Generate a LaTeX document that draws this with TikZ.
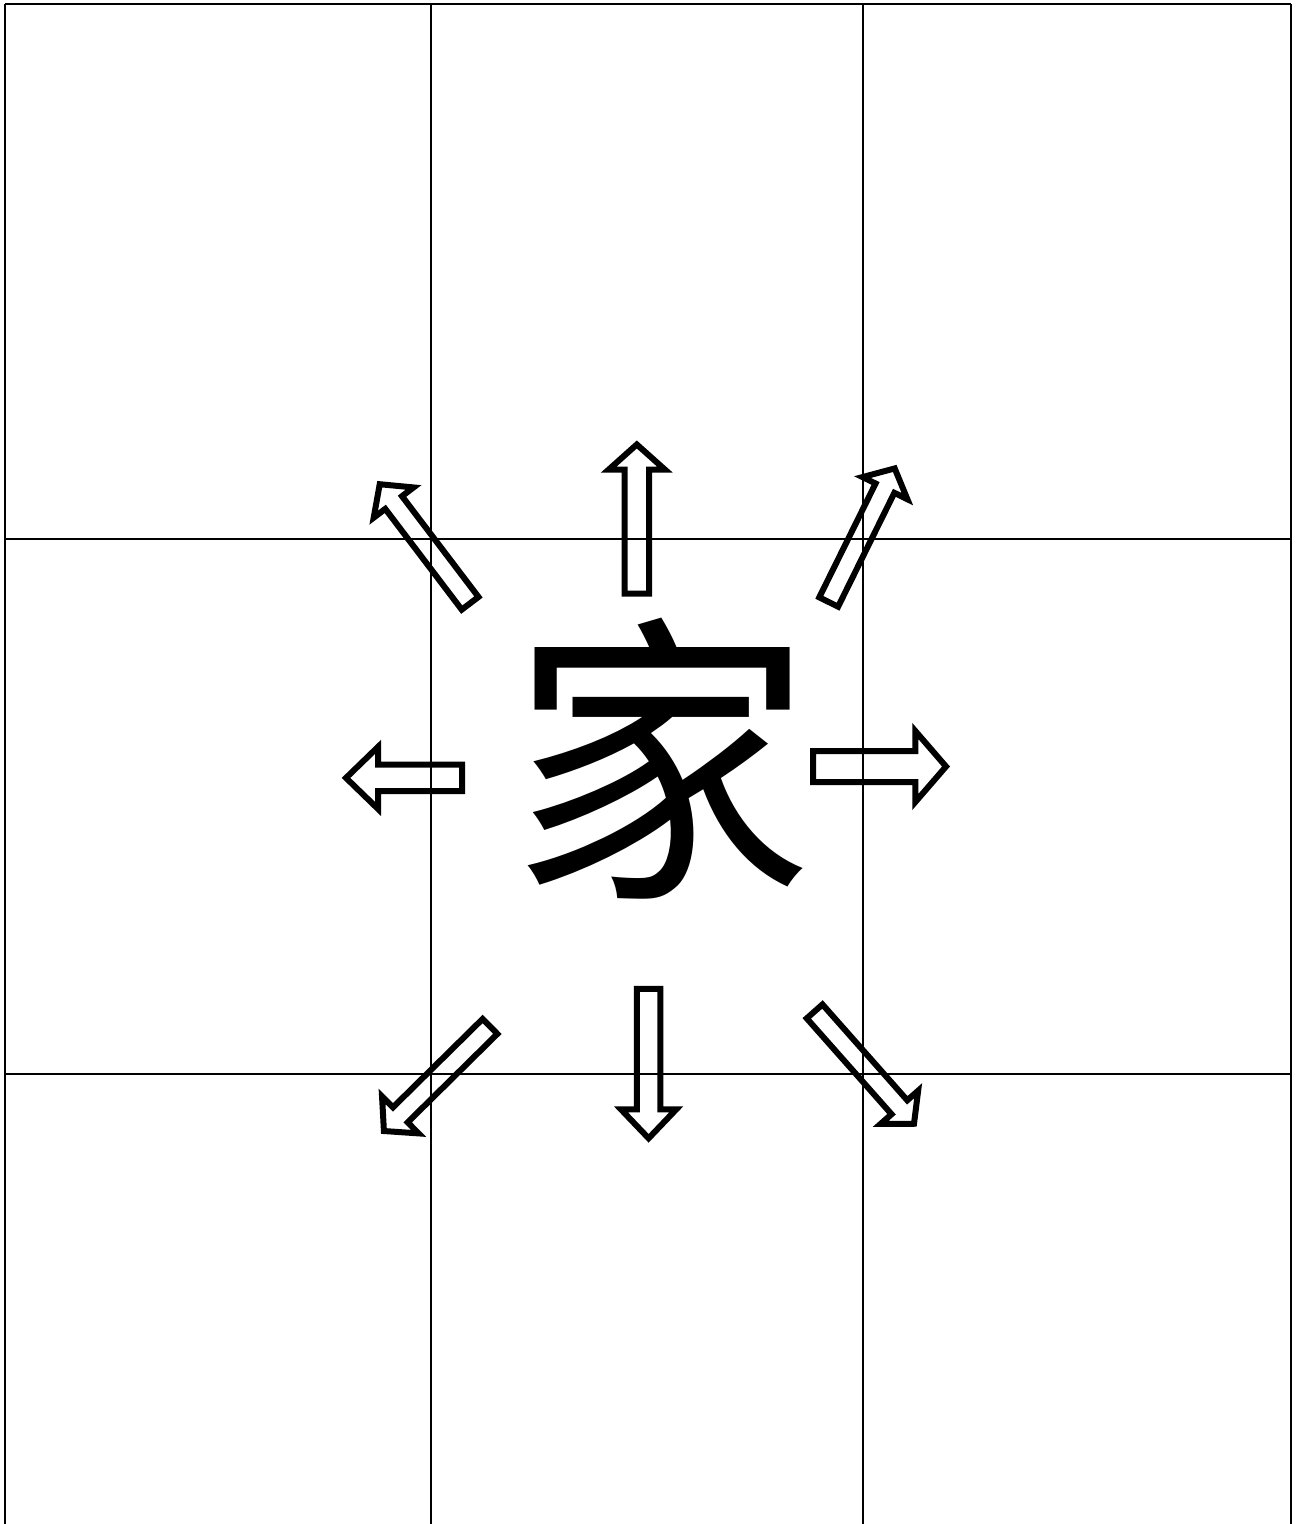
\documentclass[tikz,border=0pt]{standalone}
\usepackage{fontspec}
\newfontfamily\cjk{Noto Sans CJK SC}
\tikzset{
  gridline/.style={line width=1pt, black},
  hollowarrow/.style={line width=3pt, line join=miter, miter limit=10, black},
  glyph/.style={inner sep=0pt, font=\cjk\fontsize{152pt}{152pt}\selectfont},
}
% tail x, tail y, angle, length, shaft half width, head half width, head length
\newcommand\myblockarr[7]{%
  \begin{scope}[shift={(#1,#2)}, rotate=#3]
    \draw[hollowarrow] (0,#5) -- ({#4-#7},#5) -- ({#4-#7},#6) -- (#4,0)
      -- ({#4-#7},-#6) -- ({#4-#7},-#5) -- (0,-#5) -- cycle;
  \end{scope}}
\begin{document}
\begin{tikzpicture}[x=0.5pt,y=-0.5pt]
  \useasboundingbox (0,0) rectangle (1295,1524);
  \clip (0,0) rectangle (1295,1524);
  % grid
  \draw[gridline] (5,4.5) -- (1290.5,4.5);
  \draw[gridline] (5,4.5) -- (5,1530);
  \draw[gridline] (1290.5,4.5) -- (1290.5,1530);
  \draw[gridline] (431,4.5) -- (431,1530);
  \draw[gridline] (863,4.5) -- (863,1530);
  \draw[gridline] (5,539) -- (1290.5,539);
  \draw[gridline] (5,1074) -- (1290.5,1074);
  % character
  \node[glyph] (c) at (661,758.5) {家};
  % arrows
  \myblockarr{636.8}{593.5}{90}{149}{12.2}{28}{25}
  \myblockarr{462}{777.9}{180}{116}{13.2}{31}{32}
  \myblockarr{813}{766.5}{0}{133}{15.5}{35.5}{30.7}
  \myblockarr{648.6}{988.8}{-90}{149.5}{11.8}{27.7}{29}
  \myblockarr{470.1}{603.3}{127.2}{149.5}{10.5}{25}{23}
  \myblockarr{828.7}{602.0}{63.7}{149}{10.5}{25}{22}
  \myblockarr{490}{1026.4}{224.6}{149}{10.5}{26}{23}
  \myblockarr{814.6}{1011.4}{-48.5}{150}{10.5}{25}{22}
\end{tikzpicture}
\end{document}
